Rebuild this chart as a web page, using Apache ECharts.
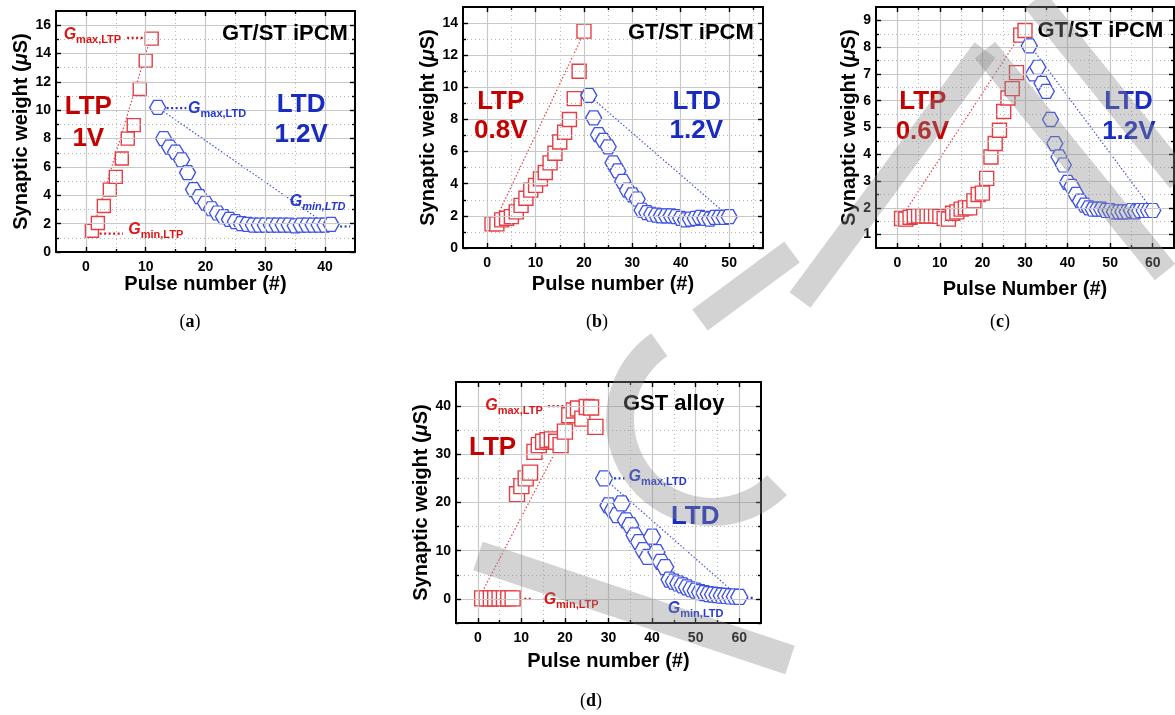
<!DOCTYPE html>
<html><head><meta charset="utf-8">
<script src="https://cdn.jsdelivr.net/npm/echarts@6/dist/echarts.min.js"></script>
<style>html,body{margin:0;padding:0;background:#fff}#c{width:1175px;height:715px}</style>
</head><body><div id="c"></div>
<script>
// ---------------- DATA ----------------
// (a) GT/ST iPCM, LTP 1V / LTD 1.2V
const A_LTP_X = [1,2,3,4,5,6,7,8,9,10,11];
const A_LTP_Y = [1.5,2.05,3.25,4.4,5.3,6.6,8.0,8.95,11.5,13.5,15.05];
const A_LTD_X = [12,13,14,15,16,17,18,19,20,21,22,23,24,25,26,27,28,29,30,31,32,33,34,35,36,37,38,39,40,41];
const A_LTD_Y = [10.2,8.0,7.4,7.05,6.5,5.6,4.4,3.9,3.45,3.05,2.75,2.5,2.3,2.15,2.0,1.95,1.9,1.9,1.9,1.9,1.9,1.9,1.9,1.85,1.9,1.9,1.9,1.9,1.9,1.95];
const A_LTP_GUIDE = [[1,1.35],[10.8,15.1]];
const A_LTD_GUIDE = [[12,10.2],[40,2.0]];

// (b) GT/ST iPCM, LTP 0.8V / LTD 1.2V
const B_LTP_X = [1,2,3,4,5,6,7,8,9,10,11,12,13,14,15,16,17,18,19,20];
const B_LTP_Y = [1.5,1.5,1.75,1.85,1.95,2.25,2.65,3.1,3.6,3.9,4.3,4.7,5.3,5.9,6.6,7.2,8.0,9.3,11.0,13.5];
const B_LTD_X = [21,22,23,24,25,26,27,28,29,30,31,32,33,34,35,36,37,38,39,40,41,42,43,44,45,46,47,48,49,50];
const B_LTD_Y = [9.5,8.1,7.05,6.7,6.3,5.3,4.8,4.15,3.6,3.3,3.05,2.35,2.2,2.1,2.05,2.0,2.0,2.0,1.95,1.85,1.75,1.8,1.85,1.9,1.85,1.8,1.9,1.9,1.9,1.95];
const B_LTP_GUIDE = [[1,1.3],[20,13.4]];
const B_LTD_GUIDE = [[21,9.5],[50,1.95]];

// (c) GT/ST iPCM, LTP 0.6V / LTD 1.2V
const C_LTP_X = [1,2,3,4,5,6,7,8,9,10,11,12,13,14,15,16,17,18,19,20,21,22,23,24,25,26,27,28,29,30];
const C_LTP_Y = [1.6,1.58,1.65,1.68,1.7,1.7,1.7,1.7,1.7,1.68,1.6,1.58,1.8,1.85,1.95,2.0,2.0,2.26,2.5,2.55,3.1,3.9,4.4,4.9,5.6,6.1,6.45,7.05,8.45,8.62];
const C_LTD_X = [31,32,33,34,35,36,37,38,39,40,41,42,43,44,45,46,47,48,49,50,51,52,53,54,55,56,57,58,59,60];
const C_LTD_Y = [8.05,7.0,7.25,6.65,6.35,5.3,4.4,3.9,3.6,2.95,2.8,2.5,2.25,2.1,2.0,1.95,1.95,1.95,1.9,1.9,1.85,1.85,1.85,1.85,1.9,1.85,1.9,1.9,1.9,1.9];
const C_LTP_GUIDE = [[1.2,1.7],[29.5,8.6]];
const C_LTD_GUIDE = [[31,8.1],[60,1.9]];

// (d) GST alloy
const D_LTP_X = [1,2,3,4,5,6,7,8,9,10,11,12,13,14,15,16,17,18,19,20,21,22,23,24,25,26,27];
const D_LTP_Y = [0.1,0.1,0.1,0.1,0.1,0.1,0.1,0.1,21.7,23.4,25.0,26.2,30.5,31.9,32.6,32.9,33.1,32.6,31.9,34.7,38.1,39.1,39.5,37.4,39.8,39.7,35.7];
const D_LTD_X = [29,30,31,32,33,34,35,36,37,38,39,40,41,42,43,44,45,46,47,48,49,50,51,52,53,54,55,56,57,58,59,60];
const D_LTD_Y = [25.0,19.4,18.4,17.4,19.8,16.3,15.3,13.2,11.8,10.1,8.7,12.9,9.7,7.7,6.6,4.0,3.6,3.2,2.8,2.4,2.0,1.7,1.4,1.2,1.0,0.9,0.8,0.7,0.6,0.5,0.5,0.4];
const D_LTP_GUIDE = [[0.3,0.2],[23,39.5]];
const D_LTD_GUIDE = [[29,25.0],[60,0.4]];

// tick labels / grid values
const A_XTICKS = [0,10,20,30,40], A_XMINOR = [5,15,25,35];
const A_YTICKS = [0,2,4,6,8,10,12,14,16], A_YMINOR = [1,3,5,7,9,11,13,15];
const B_XTICKS = [0,10,20,30,40,50], B_XMINOR = [5,15,25,35,45,55];
const B_YTICKS = [0,2,4,6,8,10,12,14], B_YMINOR = [1,3,5,7,9,11,13];
const C_XTICKS = [0,10,20,30,40,50,60], C_XMINOR = [5,15,25,35,45,55];
const C_YTICKS = [1,2,3,4,5,6,7,8,9], C_YMINOR = [1.5,2.5,3.5,4.5,5.5,6.5,7.5,8.5];
const D_XTICKS = [0,10,20,30,40,50,60], D_XMINOR = [5,15,25,35,45,55];
const D_YTICKS = [0,10,20,30,40], D_YMINOR = [-5,5,15,25,35];

// ---------------- STYLE / LAYOUT ----------------
const FONT = '"Liberation Sans", Arial, Helvetica, sans-serif';
const RED_M = '#e63e44', BLUE_M = '#3f52e6';
const RED_T = '#c40000', BLUE_T = '#1a2cc0', RED_G = '#dc1616', BLUE_G = '#2438d2';
const HEX = 'path://M0,433L250,0L750,0L1000,433L750,866L250,866Z';

const PANELS = [
  {grid:{left:56, top:11, width:299, height:241}, xmin:-5, xmax:45, ymin:0, ymax:17,
   xT:A_XTICKS, xM:A_XMINOR, yT:A_YTICKS, yM:A_YMINOR, xName:'Pulse number (#)', xGap:22, yGap:25,
   ltp:[A_LTP_X,A_LTP_Y], ltd:[A_LTD_X,A_LTD_Y], g1:A_LTP_GUIDE, g2:A_LTD_GUIDE, sq:13, hx:[16,14]},
  {grid:{left:463, top:7, width:300, height:241}, xmin:-5, xmax:57, ymin:0, ymax:15,
   xT:B_XTICKS, xM:B_XMINOR, yT:B_YTICKS, yM:B_YMINOR, xName:'Pulse number (#)', xGap:26, yGap:25,
   ltp:[B_LTP_X,B_LTP_Y], ltd:[B_LTD_X,B_LTD_Y], g1:B_LTP_GUIDE, g2:B_LTD_GUIDE, sq:14, hx:[16,14]},
  {grid:{left:876, top:7, width:298, height:241}, xmin:-5, xmax:65, ymin:0.5, ymax:9.5,
   xT:C_XTICKS, xM:C_XMINOR, yT:C_YTICKS, yM:C_YMINOR, xName:'Pulse Number (#)', xGap:31, yGap:15,
   ltp:[C_LTP_X,C_LTP_Y], ltd:[C_LTD_X,C_LTD_Y], g1:C_LTP_GUIDE, g2:C_LTD_GUIDE, sq:14, hx:[16,14]},
  {grid:{left:456, top:382, width:305, height:241}, xmin:-5, xmax:65, ymin:-5, ymax:45,
   xT:D_XTICKS, xM:D_XMINOR, yT:D_YTICKS, yM:D_YMINOR, xName:'Pulse number (#)', xGap:28, yGap:23,
   ltp:[D_LTP_X,D_LTP_Y], ltd:[D_LTD_X,D_LTD_Y], g1:D_LTP_GUIDE, g2:D_LTD_GUIDE, sq:15, hx:[17,15]}
];

// annotation texts (label anchor in data coordinates)
const NOTES = [
  [ {x:-3.8, y:15.35, t:'{gr|G}{sr|max,LTP}', pos:'right'},
    {x:7.0, y:1.6, t:'{gr|G}{sr|min,LTP}', pos:'right'},
    {x:17.0, y:10.1, t:'{gb|G}{sb|max,LTD}', pos:'right'},
    {x:34.0, y:3.55, t:'{gb|G}{sbi|min,LTD}', pos:'right'},
    {x:43.9, y:15.4, t:'{blk|GT/ST iPCM}', pos:'left'},
    {x:0.4, y:10.25, t:'{br|LTP}'}, {x:0.4, y:7.95, t:'{br|1V}'},
    {x:36.0, y:10.35, t:'{bb|LTD}'}, {x:36.0, y:8.25, t:'{bb|1.2V}'} ],
  [ {x:55.2, y:13.4, t:'{blk|GT/ST iPCM}', pos:'left'},
    {x:2.8, y:9.1, t:'{br|LTP}'}, {x:2.8, y:7.3, t:'{br|0.8V}'},
    {x:43.3, y:9.1, t:'{bb|LTD}'}, {x:43.2, y:7.3, t:'{bb|1.2V}'} ],
  [ {x:32.8, y:8.6, t:'{blk|GT/ST iPCM}', pos:'right'},
    {x:6.0, y:5.95, t:'{br|LTP}'}, {x:5.9, y:4.82, t:'{br|0.6V}'},
    {x:54.3, y:5.95, t:'{bb|LTD}'}, {x:54.4, y:4.82, t:'{bb|1.2V}'} ],
  [ {x:1.6, y:40.2, t:'{gr|G}{sr|max,LTP}', pos:'right'},
    {x:15.0, y:-0.1, t:'{gr|G}{sr|min,LTP}', pos:'right'},
    {x:34.5, y:25.3, t:'{gb|G}{sb|max,LTD}', pos:'right'},
    {x:43.5, y:-2.0, t:'{gb|G}{sb|min,LTD}', pos:'right'},
    {x:33.2, y:40.5, t:'{blk|GST alloy}', pos:'right'},
    {x:3.4, y:31.3, t:'{br|LTP}'}, {x:49.9, y:17.0, t:'{bb|LTD}'} ]
];
// short dotted leader segments next to the G labels
const LEADERS = [
  [ {c:RED_G, p:[[6.9,15.1],[9.9,15.1]]}, {c:RED_G, p:[[2.3,1.3],[6.2,1.3]]},
    {c:BLUE_G, p:[[13.5,10.15],[16.8,10.15]]}, {c:BLUE_G, p:[[41.0,1.8],[44.2,1.8]]} ],
  [], [],
  [ {c:RED_G, p:[[16.1,40],[26.4,40]]}, {c:RED_G, p:[[8.6,0],[12.7,0]]},
    {c:BLUE_G, p:[[29.2,25],[33.7,25]]}, {c:BLUE_G, p:[[58.5,0.2],[63.5,0.2]]} ]
];

const RICH = {
  gr:{fontFamily:FONT, fontSize:16, fontWeight:'bold', fontStyle:'italic', color:RED_G, lineHeight:22},
  sr:{fontFamily:FONT, fontSize:11, fontWeight:'bold', color:RED_G, lineHeight:11, verticalAlign:'bottom'},
  gb:{fontFamily:FONT, fontSize:16, fontWeight:'bold', fontStyle:'italic', color:BLUE_G, lineHeight:22},
  sb:{fontFamily:FONT, fontSize:11, fontWeight:'bold', color:BLUE_G, lineHeight:11, verticalAlign:'bottom'},
  sbi:{fontFamily:FONT, fontSize:11, fontWeight:'bold', fontStyle:'italic', color:BLUE_G, lineHeight:11, verticalAlign:'bottom'},
  blk:{fontFamily:FONT, fontSize:22, fontWeight:'bold', color:'#000'},
  br:{fontFamily:FONT, fontSize:26, fontWeight:'bold', color:RED_T},
  bb:{fontFamily:FONT, fontSize:26, fontWeight:'bold', color:BLUE_T}
};

// ---------------- BUILD ----------------
const xAxes = [], yAxes = [], grids = [], series = [];
const lblStyle = {show:true, fontSize:14, fontWeight:'bold', color:'#000', fontFamily:FONT};
const nameStyle = {fontSize:20, fontWeight:'bold', color:'#000', fontFamily:FONT,
  rich:{i:{fontSize:20, fontWeight:'bold', fontStyle:'italic', color:'#000', fontFamily:FONT}}};

function ax(gi, pos, min, max, vals, len, line, labels, extra) {
  const a = {type:'value', gridIndex:gi, position:pos, min:min, max:max, z:5,
    splitLine:{show:false},
    axisLine:{show:line, onZero:false, lineStyle:{color:'#000', width:2}},
    axisTick:{show:true, inside:true, length:len, customValues:vals, lineStyle:{color:'#000', width:1.4}},
    axisLabel: labels ? Object.assign({customValues:vals, margin:labels}, lblStyle) : {show:false}};
  return Object.assign(a, extra || {});
}

PANELS.forEach((p, gi) => {
  grids.push(p.grid);
  xAxes.push(ax(gi,'bottom',p.xmin,p.xmax,p.xT,5,true,8,{name:p.xName,nameLocation:'middle',nameGap:p.xGap,nameTextStyle:nameStyle}));
  xAxes.push(ax(gi,'bottom',p.xmin,p.xmax,p.xM,3,false,0));
  xAxes.push(ax(gi,'top',p.xmin,p.xmax,p.xT,5,true,0));
  xAxes.push(ax(gi,'top',p.xmin,p.xmax,p.xM,3,false,0));
  yAxes.push(ax(gi,'left',p.ymin,p.ymax,p.yT,5,true,5,{name:'Synaptic weight ({i|μ}S)',nameLocation:'middle',nameGap:p.yGap,nameTextStyle:nameStyle}));
  yAxes.push(ax(gi,'left',p.ymin,p.ymax,p.yM,3,false,0));
  yAxes.push(ax(gi,'right',p.ymin,p.ymax,p.yT,5,true,0));
  yAxes.push(ax(gi,'right',p.ymin,p.ymax,p.yM,3,false,0));
  const xi = gi*4, yi = gi*4;
  const major = {color:'#c8c8c8', width:1.2, type:'solid', opacity:1};
  const minor = {color:'#b4b4b4', width:1, type:[1,3], opacity:1};
  const ml = [];
  p.xT.forEach(v => ml.push({xAxis:v, lineStyle:major}));
  p.xM.forEach(v => ml.push({xAxis:v, lineStyle:minor}));
  p.yT.forEach(v => ml.push({yAxis:v, lineStyle:major}));
  p.yM.forEach(v => ml.push({yAxis:v, lineStyle:minor}));
  series.push({type:'line', xAxisIndex:xi, yAxisIndex:yi, data:[[p.xmin,p.ymin]], symbol:'none', z:1, silent:true,
    lineStyle:{opacity:0},
    markLine:{silent:true, symbol:['none','none'], label:{show:false}, animation:false, data:ml,
      lineStyle:{color:'#c8c8c8', width:1, type:'solid'}}});
  // guides
  series.push({type:'line', xAxisIndex:xi, yAxisIndex:yi, data:p.g1, showSymbol:false, z:2, silent:true,
    lineStyle:{color:RED_M, width:1.2, type:[1.5,2]}});
  series.push({type:'line', xAxisIndex:xi, yAxisIndex:yi, data:p.g2, showSymbol:false, z:2, silent:true,
    lineStyle:{color:BLUE_M, width:1.2, type:[1.5,2]}});
  LEADERS[gi].forEach(s => series.push({type:'line', xAxisIndex:xi, yAxisIndex:yi, data:s.p, showSymbol:false, z:2, silent:true,
    lineStyle:{color:s.c, width:2.2, type:[2,2.5]}}));
  // markers
  series.push({type:'scatter', xAxisIndex:xi, yAxisIndex:yi, z:3, symbol:'rect', symbolSize:p.sq,
    data:p.ltp[0].map((x,i)=>[x,p.ltp[1][i]]),
    itemStyle:{color:'#fff', borderColor:RED_M, borderWidth:1.4, opacity:1}});
  series.push({type:'scatter', xAxisIndex:xi, yAxisIndex:yi, z:4, symbol:HEX, symbolSize:p.hx,
    data:p.ltd[0].map((x,i)=>[x,p.ltd[1][i]]),
    itemStyle:{color:'#fff', borderColor:BLUE_M, borderWidth:1.3, opacity:1}});
  // texts
  series.push({type:'scatter', xAxisIndex:xi, yAxisIndex:yi, z:6, symbolSize:1, silent:true,
    itemStyle:{color:'rgba(0,0,0,0)', opacity:1},
    label:{show:true, rich:RICH, opacity:1},
    data:NOTES[gi].map(n => ({value:[n.x,n.y], label:{show:true, formatter:n.t, opacity:1,
      position: n.pos || 'inside', distance:0, rich:RICH}}))});
});

const caps = [['a',190,322],['b',597,322],['c',1000,322],['d',591,701]];
const graphics = caps.map(c => ({type:'text', x:c[1], y:c[2], z:10,
  style:{text:'{p|(}{b|'+c[0]+'}{p|)}', align:'center', verticalAlign:'middle',
    rich:{p:{fontFamily:'"Liberation Serif", "DejaVu Serif", serif', fontSize:18, fill:'#000'},
          b:{fontFamily:'"Liberation Serif", "DejaVu Serif", serif', fontSize:18, fontWeight:'bold', fill:'#000'}}}}));

// light grey "watermark" strokes overlaid on the figure (decoration, not data)
const WM = 'rgba(140,140,140,0.38)';
[[800,300,985,50,26],[985,50,1165,272,26],[1035,0,1180,180,26],[478,556,790,660,30],[700,320,792,252,26]]
  .forEach(s => graphics.push({type:'line', z:50, silent:true,
    shape:{x1:s[0],y1:s[1],x2:s[2],y2:s[3]}, style:{stroke:WM, lineWidth:s[4], lineCap:'butt'}}));
graphics.push({type:'arc', z:50, silent:true,
  shape:{cx:712, cy:420, r:92, startAngle:45*Math.PI/180, endAngle:235*Math.PI/180, clockwise:true},
  style:{stroke:WM, lineWidth:28, fill:'none'}});

const chart = echarts.init(document.getElementById('c'), null, {renderer:'canvas'});
chart.setOption({
  animation:false, backgroundColor:'#fff',
  grid:grids, xAxis:xAxes, yAxis:yAxes, series:series, graphic:graphics
});
</script></body></html>
